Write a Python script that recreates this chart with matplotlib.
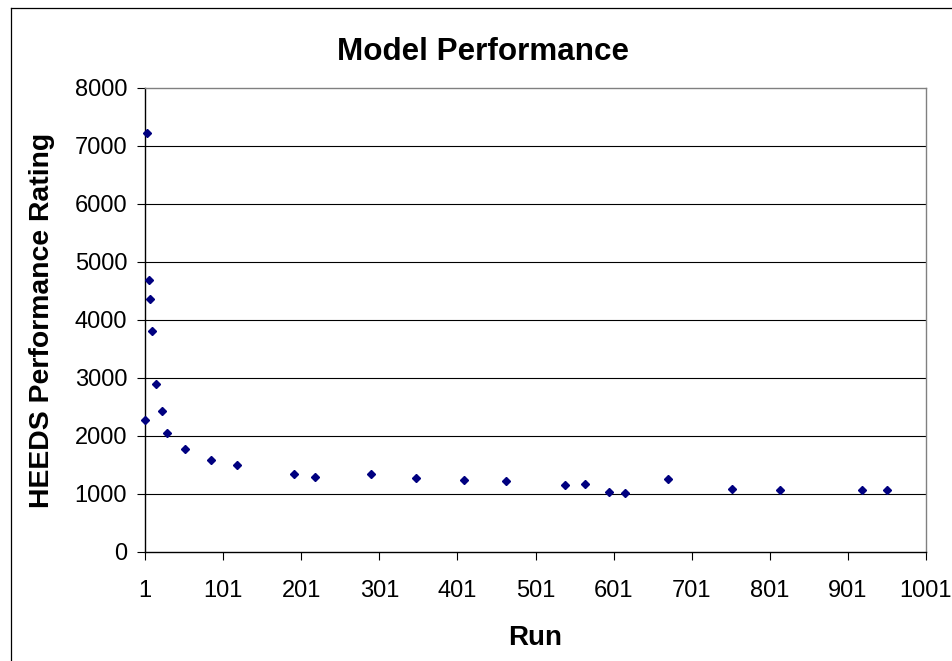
import matplotlib
matplotlib.use("Agg")
import matplotlib.pyplot as plt
from matplotlib.lines import Line2D

plt.rcParams['font.family'] = ['Liberation Sans', 'DejaVu Sans']

# Data
runs = [1, 3, 6, 7, 10, 15, 23, 29, 52, 85, 119, 191, 219, 290, 348, 409,
        463, 539, 565, 595, 616, 671, 753, 814, 920, 952]
ratings = [2276, 7229, 4690, 4362, 3805, 2897, 2431, 2046, 1770, 1580, 1500,
           1353, 1294, 1353, 1276, 1235, 1218, 1159, 1176, 1038, 1012, 1253,
           1094, 1076, 1076, 1076]

x_ticks = [1, 101, 201, 301, 401, 501, 601, 701, 801, 901, 1001]
y_ticks = [0, 1000, 2000, 3000, 4000, 5000, 6000, 7000, 8000]

title = "Model Performance"
x_label = "Run"
y_label = "HEEDS Performance Rating"

W, H = 953, 661
fig = plt.figure(figsize=(W / 100, H / 100), dpi=100)
fig.patch.set_facecolor('white')

L, R, T, B = 145.3, 925.7, 88, 552
ax = fig.add_axes([L / W, 1 - B / H, (R - L) / W, (B - T) / H])

ax.set_xlim(x_ticks[0], x_ticks[-1])
ax.set_ylim(y_ticks[0], y_ticks[-1])
ax.set_xticks(x_ticks)
ax.set_yticks(y_ticks)
ax.set_xticklabels([str(v) for v in x_ticks])
ax.set_yticklabels([str(v) for v in y_ticks])

# gridlines (inner ones black)
ax.hlines(y_ticks[1:-1], x_ticks[0], x_ticks[-1], colors='black', linewidth=0.8, zorder=1)

ax.plot(runs, ratings, linestyle='none', marker='D', markersize=4.0,
        color='#000080', markeredgecolor='#000080', zorder=3, clip_on=False)

for s in ['left', 'bottom']:
    ax.spines[s].set_color('black')
    ax.spines[s].set_linewidth(1.0)
for s in ['top', 'right']:
    ax.spines[s].set_color('#808080')
    ax.spines[s].set_linewidth(1.0)

ax.tick_params(axis='both', direction='out', length=6, width=0.8, color='black',
               labelsize=17, labelcolor='black')
ax.tick_params(axis='x', pad=14)
ax.tick_params(axis='y', pad=7)

fig.text(482.8 / W, 1 - 48.8 / H, title, fontsize=22.6, fontweight='bold',
         ha='center', va='center_baseline')
fig.text(535.5 / W, 1 - 635 / H, x_label, fontsize=20, fontweight='bold',
         ha='center', va='center_baseline')
fig.text(41.7 / W, 1 - 320 / H, y_label, fontsize=20.4, fontweight='bold',
         ha='center', va='center', rotation=90)

# outer chart border (left and top visible)
fig.add_artist(Line2D([11 / W, 11 / W], [0, 1 - 8 / H], transform=fig.transFigure,
                      color='black', linewidth=0.9))
fig.add_artist(Line2D([11 / W, 1], [1 - 8 / H, 1 - 8 / H], transform=fig.transFigure,
                      color='black', linewidth=0.9))

fig.savefig('out.png', dpi=100, facecolor='white')
